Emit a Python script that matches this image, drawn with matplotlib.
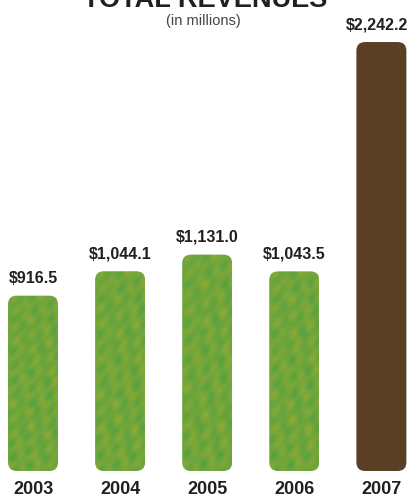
import numpy as np
import matplotlib.pyplot as plt
from matplotlib.patches import FancyBboxPatch

years = ['2003', '2004', '2005', '2006', '2007']
revenues = [916.5, 1044.1, 1131.0, 1043.5, 2242.2]
labels = ['$916.5', '$1,044.1', '$1,131.0', '$1,043.5', '$2,242.2']

FONT = ['Liberation Sans Narrow', 'Liberation Sans', 'DejaVu Sans']
green_a = np.array([0.33, 0.63, 0.25])
green_b = np.array([0.56, 0.67, 0.21])
brown = '#5a3f24'

fig = plt.figure(figsize=(4.13, 4.97), dpi=100)
ax = fig.add_axes([0, 0, 1, 1])
ax.set_xlim(-0.379, 4.363)
ax.set_ylim(-136, 2462)
ax.axis('off')

# mottled texture for the green bars (decoration only)
yy, xx = np.mgrid[0:180, 0:50]
tex = (np.sin(xx * 0.31 + yy * 0.17) * np.cos(yy * 0.23 - xx * 0.13 + 0.7)
       + 0.8 * np.sin(xx * 0.19 - yy * 0.29 + 1.3) * np.sin(yy * 0.11 + 2.0)
       + 0.6 * np.cos(xx * 0.53 + yy * 0.41 + 2.1)
       + 0.5 * np.sin(yy * 0.07 - xx * 0.37 + 0.4))
tex = (tex - tex.min()) / (tex.max() - tex.min())
rgb = green_a[None, None, :] * (1 - tex[..., None]) + green_b[None, None, :] * tex[..., None]

width = 0.574
aspect = (1 / 0.1913) / (1 / 87.1)
for i, (yr, val, lab) in enumerate(zip(years, revenues, labels)):
    x0 = i - width / 2
    is_last = i == len(years) - 1
    box = FancyBboxPatch((x0, 0), width, val,
                         boxstyle='round,pad=0,rounding_size=0.1',
                         mutation_aspect=aspect,
                         fc=brown if is_last else 'none', ec='none')
    ax.add_patch(box)
    if not is_last:
        im = ax.imshow(rgb, extent=(x0, x0 + width, 0, val),
                       aspect='auto', interpolation='bicubic', zorder=1)
        im.set_clip_path(box)
    ax.annotate(lab, (i, val), xytext=(-3 if is_last else 0, 7),
                textcoords='offset points',
                ha='center', va='bottom', fontsize=11.5, fontweight='bold',
                color='#231f20', family=FONT)
    ax.text(i, -95, yr, ha='center', va='center', fontsize=13,
            fontweight='bold', color='#231f20', family=FONT)

fig.text(0.497, 1.0, 'TOTAL REVENUES', ha='center', va='center',
         fontsize=19.5, fontweight='bold', color='#231f20', family=FONT)
fig.text(0.492, 0.957, '(in millions)', ha='center', va='center',
         fontsize=10.5, color='#444444', family=FONT)

fig.savefig('out.png', dpi=100)
